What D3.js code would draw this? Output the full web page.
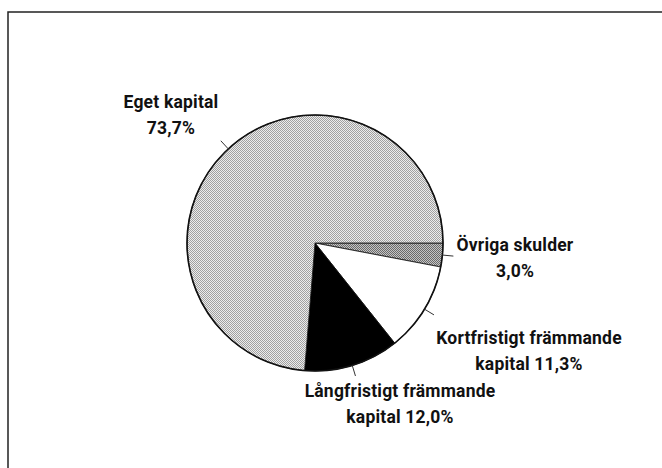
<!DOCTYPE html>
<html>
<head>
<meta charset="utf-8">
<style>
body { margin: 0; background: #fff; }
text {
  font-family: Roboto, "Liberation Sans", sans-serif;
  font-weight: 700;
  font-size: 17.5px;
  letter-spacing: 0.2px;
  fill: #111;
}
</style>
</head>
<body>
<script src="https://cdn.jsdelivr.net/npm/d3@7"></script>
<script>

// data, in the order the slices run clockwise from 3 o'clock
var categories = ["Övriga skulder", "Kortfristigt främmande kapital", "Långfristigt främmande kapital", "Eget kapital"];
var values = [3.0, 11.3, 12.0, 73.7];
var labelLines = [
  ["Övriga skulder", "3,0%"],
  ["Kortfristigt främmande", "kapital 11,3%"],
  ["Långfristigt främmande", "kapital 12,0%"],
  ["Eget kapital", "73,7%"]
];
var fills = ["url(#darkdots)", "#fff", "#000", "url(#lightdots)"];

var width = 662,
    height = 468,
    cx = 315,
    cy = 243,
    radius = 128;

// label anchor points (centre of first line baseline)
var labelPos = [[515, 251], [529, 344], [400, 397], [171, 108]];

var svg = d3.select("body").append("svg")
    .attr("width", width)
    .attr("height", height);

var defs = svg.append("defs");

function halftone(id, dark, light) {
  var p = defs.append("pattern")
      .attr("id", id)
      .attr("width", 2)
      .attr("height", 2)
      .attr("patternUnits", "userSpaceOnUse");
  p.append("rect").attr("width", 2).attr("height", 2).attr("fill", light);
  p.append("rect").attr("width", 1).attr("height", 1).attr("fill", dark);
  p.append("rect").attr("x", 1).attr("y", 1).attr("width", 1).attr("height", 1).attr("fill", dark);
}
halftone("lightdots", "#a0a0a0", "#ececec");
halftone("darkdots", "#6a6a6a", "#c4c4c4");

// frame (only top and left edges survive in the scan)
svg.append("path")
    .attr("d", "M8," + height + "V12H" + width)
    .attr("fill", "none")
    .attr("stroke", "#222")
    .attr("stroke-width", 1.5);

var pie = d3.pie()
    .sort(null)
    .startAngle(Math.PI / 2)
    .endAngle(Math.PI / 2 + 2 * Math.PI)
    .value(function(d) { return d; });

var arcs = pie(values);

var arc = d3.arc().innerRadius(0).outerRadius(radius);

var g = svg.append("g")
    .attr("transform", "translate(" + cx + "," + cy + ")");

g.selectAll("path.slice")
    .data(arcs)
    .enter().append("path")
    .attr("class", "slice")
    .attr("d", arc)
    .attr("fill", function(d, i) { return fills[i]; })
    .attr("stroke", "#111")
    .attr("stroke-width", 0.8);

// outer rim
g.append("circle")
    .attr("r", radius)
    .attr("fill", "none")
    .attr("stroke", "#111")
    .attr("stroke-width", 1.6);

// short leader ticks at each slice's middle
g.selectAll("line.tick")
    .data(arcs)
    .enter().append("line")
    .attr("class", "tick")
    .attr("x1", function(d) { return Math.sin((d.startAngle + d.endAngle) / 2) * radius; })
    .attr("y1", function(d) { return -Math.cos((d.startAngle + d.endAngle) / 2) * radius; })
    .attr("x2", function(d) { return Math.sin((d.startAngle + d.endAngle) / 2) * (radius + 11); })
    .attr("y2", function(d) { return -Math.cos((d.startAngle + d.endAngle) / 2) * (radius + 11); })
    .attr("stroke", "#333")
    .attr("stroke-width", 1);

// labels
var labels = svg.selectAll("text.label")
    .data(labelLines)
    .enter().append("text")
    .attr("class", "label")
    .attr("text-anchor", "middle")
    .attr("x", function(d, i) { return labelPos[i][0]; })
    .attr("y", function(d, i) { return labelPos[i][1]; });

labels.selectAll("tspan")
    .data(function(d) { return d; })
    .enter().append("tspan")
    .attr("x", function() { return this.parentNode.getAttribute("x"); })
    .attr("dy", function(d, j) { return j === 0 ? 0 : 26; })
    .text(function(d) { return d; });

</script>
</body>
</html>
